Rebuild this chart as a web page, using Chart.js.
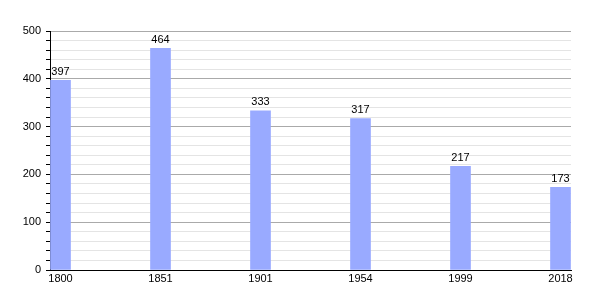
<!DOCTYPE html>
<html>
<head>
<meta charset="utf-8">
<script src="https://cdn.jsdelivr.net/npm/chart.js@4/dist/chart.umd.min.js"></script>
<style>
  html, body { margin: 0; padding: 0; background: #fff; }
  #wrap { width: 600px; height: 300px; }
</style>
</head>
<body>
<div id="wrap"><canvas id="popChart"></canvas></div>
<script>
// Data
const years = ['1800', '1851', '1901', '1954', '1999', '2018'];
const population = [397, 464, 333, 317, 217, 173];

const barColor = '#99aaff';
const fontFamily = '"Liberation Sans", Arial, sans-serif';

// Draw the value above each bar
const valueLabels = {
    id: 'valueLabels',
    afterDatasetsDraw(chart) {
        const c = chart.ctx;
        const meta = chart.getDatasetMeta(0);
        c.save();
        c.font = '11px ' + fontFamily;
        c.fillStyle = '#000';
        c.textAlign = 'center';
        c.textBaseline = 'bottom';
        meta.data.forEach((bar, i) => {
            c.fillText(String(population[i]), bar.x, bar.y - 3);
        });
        c.restore();
    }
};

const ctx = document.getElementById('popChart').getContext('2d');

new Chart(ctx, {
    type: 'bar',
    data: {
        datasets: [{
            data: population.map((v, i) => ({ x: i, y: v })),
            backgroundColor: barColor,
            borderWidth: 0,
            barThickness: 20,
        }]
    },
    options: {
        responsive: true,
        maintainAspectRatio: false,
        animation: false,
        layout: { padding: { top: 31, right: 29, left: 0, bottom: 0 } },
        plugins: {
            legend: { display: false },
            tooltip: { enabled: false },
        },
        scales: {
            x: {
                type: 'linear',
                offset: false,
                min: -0.105,
                max: 5.105,
                afterBuildTicks: (scale) => {
                    scale.ticks = years.map((y, i) => ({ value: i }));
                },
                afterFit: (scale) => { scale.height = 30; },
                grid: { display: false, drawTicks: false },
                border: { display: true, color: '#000', width: 1 },
                ticks: {
                    padding: 2,
                    color: '#000',
                    font: { family: fontFamily, size: 11 },
                    maxRotation: 0,
                    autoSkip: false,
                    callback: (value) => years[value],
                },
            },
            y: {
                min: 0,
                max: 500,
                afterFit: (scale) => { scale.width = 50; },
                border: { display: true, color: '#000', width: 1 },
                grid: {
                    color: (c) => (c.tick && c.tick.value % 100 === 0) ? '#aaaaaa' : '#e4e4e4',
                    tickColor: '#000',
                    tickLength: 4,
                },
                ticks: {
                    stepSize: 20,
                    padding: 5,
                    color: '#000',
                    font: { family: fontFamily, size: 11 },
                    autoSkip: false,
                    callback: (value) => value % 100 === 0 ? value : '',
                },
            },
        },
    },
    plugins: [valueLabels],
});
</script>
</body>
</html>
